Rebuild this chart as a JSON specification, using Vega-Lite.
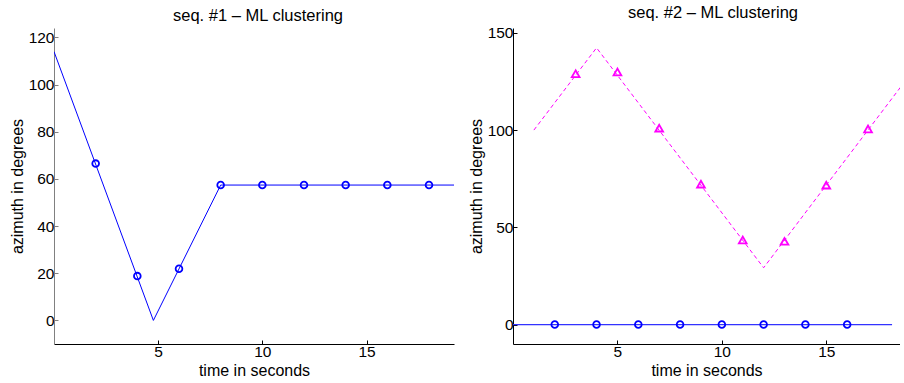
{
  "$schema": "https://vega.github.io/schema/vega-lite/v6.json",
  "background": "white",
  "padding": {"left": 9, "top": 5, "right": 0, "bottom": 0},
  "spacing": 14,
  "datasets": {
    "s1line": [
      {"t": 0, "az": 114},
      {"t": 4.77, "az": 0},
      {"t": 8, "az": 57.4},
      {"t": 19.2, "az": 57.4}
    ],
    "s1pts": [
      {"t": 2, "az": 66.5},
      {"t": 4, "az": 18.8},
      {"t": 6, "az": 21.9},
      {"t": 8, "az": 57.4},
      {"t": 10, "az": 57.4},
      {"t": 12, "az": 57.4},
      {"t": 14, "az": 57.4},
      {"t": 16, "az": 57.4},
      {"t": 18, "az": 57.4}
    ],
    "s2mline": [
      {"t": 1, "az": 100},
      {"t": 4, "az": 142.3},
      {"t": 12, "az": 29.2},
      {"t": 18.55, "az": 122}
    ],
    "s2mpts": [
      {"t": 3, "az": 129},
      {"t": 5, "az": 129.9},
      {"t": 7, "az": 101},
      {"t": 9, "az": 72.2},
      {"t": 11, "az": 43.5},
      {"t": 13, "az": 42.8},
      {"t": 15, "az": 71.7},
      {"t": 17, "az": 100.6}
    ],
    "s2bline": [
      {"t": 0, "az": 0},
      {"t": 18.15, "az": 0}
    ],
    "s2bpts": [
      {"t": 2, "az": 0},
      {"t": 4, "az": 0},
      {"t": 6, "az": 0},
      {"t": 8, "az": 0},
      {"t": 10, "az": 0},
      {"t": 12, "az": 0},
      {"t": 14, "az": 0},
      {"t": 16, "az": 0}
    ]
  },
  "config": {
    "font": "Liberation Sans",
    "view": {"stroke": null},
    "axis": {
      "grid": false,
      "domainColor": "black",
      "tickColor": "black",
      "tickSize": -4,
      "labelPadding": 4,
      "labelFont": "Liberation Sans",
      "labelFontSize": 15.5,
      "labelColor": "black",
      "titleFont": "Liberation Sans",
      "titleFontSize": 16,
      "titleFontWeight": "normal",
      "titleColor": "black",
      "titlePadding": 3
    },
    "title": {
      "font": "Liberation Sans",
      "fontSize": 16.5,
      "fontWeight": "normal",
      "color": "black",
      "anchor": "middle",
      "offset": 4
    }
  },
  "hconcat": [
    {
      "width": 400,
      "height": 316,
      "title": {"text": "seq. #1 – ML clustering", "dx": 4},
      "layer": [
        {
          "data": {"name": "s1line"},
          "mark": {"type": "line", "color": "#0000ff", "strokeWidth": 1, "clip": true},
          "encoding": {
            "x": {"field": "t", "type": "quantitative"},
            "y": {"field": "az", "type": "quantitative"}
          }
        },
        {
          "data": {"name": "s1pts"},
          "mark": {"type": "point", "shape": "circle", "filled": false, "color": "#0000ff", "strokeWidth": 1.8, "size": 45, "opacity": 1},
          "encoding": {
            "x": {"field": "t", "type": "quantitative", "scale": {"domain": [0, 19.2], "nice": false, "zero": false}, "axis": {"values": [5, 10, 15], "title": "time in seconds"}},
            "y": {"field": "az", "type": "quantitative", "scale": {"domain": [-10, 124], "nice": false, "zero": false}, "axis": {"values": [0, 20, 40, 60, 80, 100, 120], "title": "azimuth in degrees", "domainColor": "#808080", "tickColor": "#808080"}}
          }
        }
      ]
    },
    {
      "width": 387,
      "height": 316,
      "title": {"text": "seq. #2 – ML clustering", "dx": 6.5},
      "layer": [
        {
          "data": {"name": "s2mline"},
          "mark": {"type": "line", "color": "#ff00ff", "strokeWidth": 1, "strokeDash": [4, 3], "clip": true},
          "encoding": {
            "x": {"field": "t", "type": "quantitative"},
            "y": {"field": "az", "type": "quantitative"}
          }
        },
        {
          "data": {"name": "s2bline"},
          "mark": {"type": "line", "color": "#3333ff", "strokeWidth": 1.3, "clip": true},
          "encoding": {
            "x": {"field": "t", "type": "quantitative"},
            "y": {"field": "az", "type": "quantitative"}
          }
        },
        {
          "data": {"name": "s2mpts"},
          "mark": {"type": "point", "shape": "triangle-up", "filled": false, "color": "#ff00ff", "strokeWidth": 1.8, "size": 60, "opacity": 1},
          "encoding": {
            "x": {"field": "t", "type": "quantitative"},
            "y": {"field": "az", "type": "quantitative"}
          }
        },
        {
          "data": {"name": "s2bpts"},
          "mark": {"type": "point", "shape": "circle", "filled": false, "color": "#0000ff", "strokeWidth": 1.8, "size": 45, "opacity": 1},
          "encoding": {
            "x": {"field": "t", "type": "quantitative", "scale": {"domain": [0, 18.53], "nice": false, "zero": false}, "axis": {"values": [5, 10, 15], "title": "time in seconds"}},
            "y": {"field": "az", "type": "quantitative", "scale": {"domain": [-10, 152.5], "nice": false, "zero": false}, "axis": {"values": [0, 50, 100, 150], "title": "azimuth in degrees"}}
          }
        }
      ]
    }
  ]
}
